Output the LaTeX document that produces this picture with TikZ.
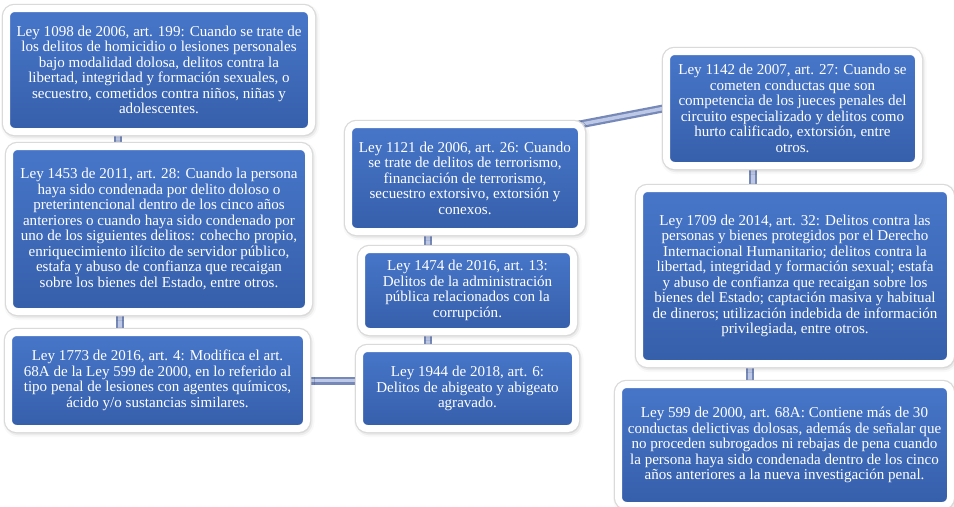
\documentclass[tikz,border=0pt]{standalone}
\usepackage{fontspec}
\setmainfont{Liberation Serif}
\usetikzlibrary{backgrounds,calc,shadows.blur}
\newdimen\px \px=0.75pt
\definecolor{boxTop}{HTML}{4776C9}
\definecolor{boxBot}{HTML}{365FAA}
\definecolor{connDark}{HTML}{7588B8}
\definecolor{connLight}{HTML}{BCC8E6}
\definecolor{rimGray}{HTML}{DADADA}
\tikzset{
  lawbox/.style 2 args={draw=white, line width=7\px, rounded corners=8\px,
    top color=boxTop, bottom color=boxBot, text=white, align=center,
    inner sep=1pt, font=\fontsize{11.3}{11.6}\selectfont,
    minimum width=#1\px+7\px, minimum height=#2\px+7\px,
    blur shadow={shadow xshift=1pt, shadow yshift=-1.5pt, shadow opacity=40, shadow blur radius=5pt},
    preaction={draw=rimGray, line width=9.5\px}},
  conn/.style={line width=8\px, draw=connDark, postaction={draw=connLight, line width=3.5\px}}
}
\begin{document}
\begin{tikzpicture}[x=0.75pt, y=-0.75pt]
\useasboundingbox (0,0) rectangle (954,507);
\node[lawbox={298}{116}] (A) at (159,70) {Ley 1098 de 2006, art. 199: Cuando se trate de\\los delitos de homicidio o lesiones personales\\bajo modalidad dolosa, delitos contra la\\libertad, integridad y formación sexuales, o\\secuestro, cometidos contra niños, niñas y\\adolescentes.};
\node[lawbox={292}{158}] (B) at (159,229) {Ley 1453 de 2011, art. 28: Cuando la persona\\haya sido condenada por delito doloso o\\preterintencional dentro de los cinco años\\anteriores o cuando haya sido condenado por\\uno de los siguientes delitos: cohecho propio,\\enriquecimiento ilícito de servidor público,\\estafa y abuso de confianza que recaigan\\sobre los bienes del Estado, entre otros.};
\node[lawbox={291}{89}] (C) at (157.5,380.5) {Ley 1773 de 2016, art. 4: Modifica el art.\\68A de la Ley 599 de 2000, en lo referido al\\tipo penal de lesiones con agentes químicos,\\ácido y/o sustancias similares.};
\node[lawbox={209}{73}] (D) at (467.5,388.5) {Ley 1944 de 2018, art. 6:\\Delitos de abigeato y abigeato\\agravado.};
\node[lawbox={205}{75}] (E) at (467.5,290.5) {Ley 1474 de 2016, art. 13:\\Delitos de la administración\\pública relacionados con la\\corrupción.};
\node[lawbox={226}{100}] (F) at (465,178) {Ley 1121 de 2006, art. 26: Cuando\\se trate de delitos de terrorismo,\\financiación de terrorismo,\\secuestro extorsivo, extorsión y\\conexos.};
\node[lawbox={245}{107}] (G) at (792.5,108.5) {Ley 1142 de 2007, art. 27: Cuando se\\cometen conductas que son\\competencia de los jueces penales del\\circuito especializado y delitos como\\hurto calificado, extorsión, entre\\otros.};
\node[lawbox={304}{168}] (H) at (795,276) {Ley 1709 de 2014, art. 32: Delitos contra las\\personas y bienes protegidos por el Derecho\\Internacional Humanitario; delitos contra la\\libertad, integridad y formación sexual; estafa\\y abuso de confianza que recaigan sobre los\\bienes del Estado; captación masiva y habitual\\de dineros; utilización indebida de información\\privilegiada, entre otros.};
\node[lawbox={325}{114}] (I) at (784.5,445) {Ley 599 de 2000, art. 68A: Contiene más de 30\\conductas delictivas dolosas, además de señalar que\\no proceden subrogados ni rebajas de pena cuando\\la persona haya sido condenada dentro de los cinco\\años anteriores a la nueva investigación penal.};
\begin{scope}[on background layer]
\draw[conn] ([xshift=-41\px]A.south) -- ([xshift=-41\px]B.north);
\draw[conn] ([xshift=-39\px]B.south) -- ([xshift=-37.5\px]C.north);
\draw[conn] (C.east) -- (C.east -| D.west);
\draw[conn] ([xshift=-39.5\px]D.north) -- ([xshift=-39.5\px]E.south);
\draw[conn] ([xshift=-39.5\px]E.north) -- ([xshift=-37\px]F.south);
\draw[conn] ([xshift=-8\px,yshift=-4\px]F.north east) -- (G.west);
\draw[conn] ([xshift=-39.5\px]G.south) -- ([xshift=-42\px]H.north);
\draw[conn] ([xshift=-45\px]H.south) -- ([xshift=-34.5\px]I.north);
\end{scope}
\end{tikzpicture}
\end{document}
